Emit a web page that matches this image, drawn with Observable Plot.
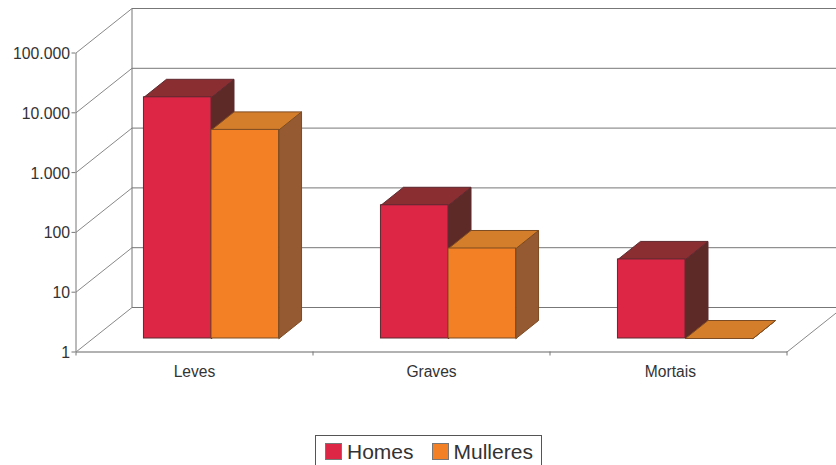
<!DOCTYPE html>
<html>
<head>
<meta charset="utf-8">
<script src="https://cdn.jsdelivr.net/npm/d3@7"></script>
<script src="https://cdn.jsdelivr.net/npm/@observablehq/plot@0.6"></script>
<style>
html,body{margin:0;padding:0;background:#fff;overflow:hidden;width:836px;height:465px}
#legend{position:absolute;left:315px;top:435px;width:227px;height:40px;box-sizing:border-box;border:1.5px solid #555;
 font-family:"Liberation Sans",Arial,sans-serif;font-size:21px;color:#333;display:flex;align-items:flex-start;padding:6px 0 0 9px}
#legend span.s{display:inline-block;width:15px;height:15px;border:1px solid #777;margin-right:5px;margin-top:1px}
#legend span.t{line-height:20px}
</style>
</head>
<body>
<div id="chart"></div>
<div id="legend"></div>
<script>
const categories = ["Leves", "Graves", "Mortais"];
const seriesNames = ["Homes", "Mulleres"];
const homes = [10800, 169, 21];
const mulleres = [3080, 32, 1];
const yTicks = [1, 10, 100, 1000, 10000, 100000];
const yLabels = ["1", "10", "100", "1.000", "10.000", "100.000"];
const colors = {
  Homes: {front: "#dd2645", top: "#8b2e31", side: "#5d2a27", edge: "#5e2a30"},
  Mulleres: {front: "#f48025", top: "#d47d2a", side: "#955a32", edge: "#7d4c22"}
};

// projection constants (x in category units, y in decades)
const wallX = 56 / 237, wallD = 44.5 / 59.8;
const floorX = 17 / 237, floorD = 13.5 / 59.8;
const depthX = 22.5 / 237, depthD = 18 / 59.8;
const barW = 0.285, barMid = 0.5 + floorX;
const up = (v, d) => v * Math.pow(10, d);
const base = up(1, floorD);

const frontRects = {}, faces = {};
seriesNames.forEach((name, s) => {
  const vals = s === 0 ? homes : mulleres;
  frontRects[name] = [];
  faces[name] = [];
  categories.forEach((c, i) => {
    const x0 = i + barMid + (s - 1) * barW, x1 = x0 + barW;
    const top = up(vals[i], floorD);
    frontRects[name].push({x1: x0, x2: x1, y1: base, y2: top});
    const poly = (id, fill, pts) => pts.concat([pts[0]]).forEach(p =>
      faces[name].push({id: c + id, fill, x: p[0], y: p[1]}));
    poly("-side", colors[name].side, [[x1, base], [x1 + depthX, up(base, depthD)], [x1 + depthX, up(top, depthD)], [x1, top]]);
    poly("-top", colors[name].top, [[x0, top], [x1, top], [x1 + depthX, up(top, depthD)], [x0 + depthX, up(top, depthD)]]);
  });
});

const barMarks = seriesNames.flatMap(name => [
  Plot.line(faces[name], {x: "x", y: "y", z: "id", fill: "fill", stroke: colors[name].edge, strokeWidth: 1, curve: "linear"}),
  Plot.rect(frontRects[name], {x1: "x1", x2: "x2", y1: "y1", y2: "y2", fill: colors[name].front, stroke: colors[name].edge, strokeWidth: 1, inset: 0})
]);

const lineC = "#777";
const plot = Plot.plot({
  width: 836, height: 435,
  marginLeft: 75.5, marginRight: 49.5, marginTop: 52.5, marginBottom: 83.5,
  style: {fontFamily: '"Liberation Sans", Arial, sans-serif', background: "#fff", overflow: "visible"},
  x: {domain: [0, 3], axis: null},
  y: {type: "log", domain: [1, 100000], axis: null},
  marks: [
    // back wall horizontals
    Plot.link(yTicks, {x1: wallX, x2: 3 + wallX, y1: d => up(d, wallD), y2: d => up(d, wallD), stroke: lineC, strokeWidth: 1}),
    // side wall diagonals
    Plot.link(yTicks, {x1: 0, x2: wallX, y1: d => d, y2: d => up(d, wallD), stroke: "#888", strokeWidth: 1}),
    // back wall vertical
    Plot.link([0], {x1: wallX, x2: wallX, y1: up(1, wallD), y2: up(100000, wallD), stroke: lineC, strokeWidth: 1}),
    // floor right diagonal
    Plot.link([0], {x1: 3, x2: 3 + wallX, y1: 1, y2: up(1, wallD), stroke: "#888", strokeWidth: 1}),
    // front axis lines
    Plot.link([0], {x1: 0, x2: 0, y1: 1, y2: 100000, stroke: lineC, strokeWidth: 1}),
    Plot.link([0], {x1: 0, x2: 3, y1: 1, y2: 1, stroke: "#999", strokeWidth: 1.5}),
    Plot.axisY({ticks: yTicks, tickFormat: () => "", tickSize: 4, stroke: lineC, label: null}),
    Plot.axisY({ticks: yTicks, tickFormat: d => yLabels[yTicks.indexOf(d)], tickSize: 0, tickPadding: 6, dy: 1, color: "#333", fontSize: 15.8, label: null}),
    Plot.axisX({ticks: [0, 1, 2, 3], tickFormat: () => "", tickSize: 4, stroke: lineC, label: null}),
    Plot.axisX({ticks: [0.5, 1.5, 2.508], tickFormat: d => categories[Math.floor(d)], tickSize: 0, tickPadding: 14, color: "#333", fontSize: 15.6, label: null}),
    ...barMarks
  ]
});
document.getElementById("chart").appendChild(plot);

const legend = document.getElementById("legend");
seriesNames.forEach((name, i) => {
  const sw = document.createElement("span");
  sw.className = "s";
  sw.style.background = colors[name].front;
  const t = document.createElement("span");
  t.className = "t";
  t.textContent = name;
  if (i === 0) t.style.marginRight = "18px";
  legend.append(sw, t);
});
</script>
</body>
</html>
